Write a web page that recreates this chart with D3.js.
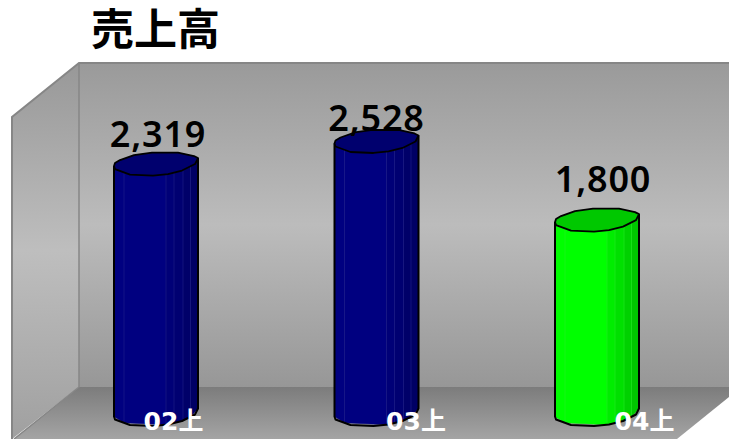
<!DOCTYPE html>
<html lang="ja"><head><meta charset="utf-8">
<script src="https://d3js.org/d3.v7.min.js"></script>
<style>html,body{margin:0;padding:0;background:#fff;overflow:hidden}svg{display:block}
text{font-family:"Noto Sans CJK JP","Noto Sans",sans-serif}
.val{font-family:"Noto Sans","Noto Sans CJK JP",sans-serif;letter-spacing:.8px}
.tick text{font-family:"DejaVu Sans","Noto Sans CJK JP",sans-serif}</style></head><body>
<svg id="c" width="729" height="439"></svg>
<script>
const categories = ["02上","03上","04上"];
const values = [2319,2528,1800];
const barColors = ["#000080","#000080","#00ff00"];
const topColors = ["#00006e","#00006e","#00c800"];
const title = "売上高";
const labelDx = [2,0,6];
const labelDy = [-17,-10,-28];
const tickDx = [17,39,47];

const svg = d3.select("#c");
const x = d3.scalePoint().domain(categories).range([156,597]);
const y = d3.scaleLinear().domain([0,3000]).range([414.5,90.5]);

const defs = svg.append("defs");
function grad(id,stops){
  const g = defs.append("linearGradient").attr("id",id).attr("x1",0).attr("y1",0).attr("x2",0).attr("y2",1);
  stops.forEach(s=>g.append("stop").attr("offset",s[0]).attr("stop-color",s[1]));
}
grad("back",[[0,"#9a9a9a"],[.5,"#bcbcbc"],[1,"#979797"]]);
grad("side",[[0,"#989898"],[.5,"#bebebe"],[1,"#a0a0a0"]]);
grad("floor",[[0,"#7c7c7c"],[1,"#a4a4a4"]]);

const line = d3.line();
svg.append("path").attr("d",line([[79,63],[729,63],[729,387],[79,387]])+"Z").attr("fill","url(#back)");
svg.append("path").attr("d",line([[12,117],[79,63],[79,387],[12,439]])+"Z").attr("fill","url(#side)");
svg.append("path").attr("d",line([[79,387],[729,387],[729,397],[677,439],[14,439]])+"Z").attr("fill","url(#floor)");
svg.append("path").attr("d",line([[729,63],[79,63],[12,117],[12,439]])).attr("fill","none").attr("stroke","#868686").attr("stroke-width",2);
svg.append("path").attr("d",line([[79,63],[79,387],[14,439]])).attr("fill","none").attr("stroke","#868686").attr("stroke-width",1.5);

// Cylinder outline (relative to bar centre / top plane)
const rimFront = [[-42,2],[-41,5],[-26,10.5],[-3,11.5],[12,10],[26,6.5],[39,0],[42,-6]];
const rimBack = [[42,-6],[38,-8],[22,-11.5],[-4,-11.5],[-22,-9],[-36,-4],[-41,-1]];
const facetEdges = [-42,-32,10,18,27,34.5,42];
const shades = [1.0,1.0,.93,.88,.82,.78];

function rimY(dx){
  for(let i=0;i<rimFront.length-1;i++){
    const a=rimFront[i],b=rimFront[i+1];
    if(dx>=a[0]&&dx<=b[0]) return a[1]+(b[1]-a[1])*(dx-a[0])/(b[0]-a[0]);
  }
  return 0;
}
const bars = svg.selectAll("g.bar").data(categories).join("g").attr("class","bar");
bars.each(function(c,i){
  const g = d3.select(this), cx=x(c), top=y(values[i]), bot=y(0);
  const base = d3.color(barColors[i]);
  facetEdges.slice(0,-1).forEach((e,k)=>{
    const f = facetEdges[k+1];
    const col = d3.rgb(base.r*shades[k],base.g*shades[k],base.b*shades[k]);
    const pts=[[cx+e,top+rimY(e)],[cx+f,top+rimY(f)],[cx+f,bot+rimY(f)],[cx+e,bot+rimY(e)]];
    g.append("path").attr("d",line(pts)+"Z").attr("fill",col.formatHex()).attr("stroke",col.formatHex()).attr("stroke-width",.5);
    if(k>0) g.append("line").attr("x1",cx+e).attr("x2",cx+e).attr("y1",top+rimY(e)).attr("y2",bot+rimY(e))
      .attr("stroke",i==2?"#22f022":"#20208c").attr("stroke-width",.6);
  });
  // outline
  const outline=[[cx-42,top+rimFront[0][1]],[cx-42,bot+rimFront[0][1]]]
    .concat(rimFront.slice(1).map(p=>[cx+p[0],bot+p[1]]))
    .concat([[cx+42,top-6]]);
  g.append("path").attr("d",line(outline)).attr("fill","none").attr("stroke","#000").attr("stroke-width",2).attr("stroke-linejoin","round");
  const cap=rimFront.concat(rimBack.slice(1)).map(p=>[cx+p[0],top+p[1]]);
  g.append("path").attr("d",line(cap)+"Z")
    .attr("fill",topColors[i]).attr("stroke","#000").attr("stroke-width",1.8).attr("stroke-linejoin","round");
});

svg.selectAll("text.val").data(values).join("text").attr("class","val")
  .attr("x",(d,i)=>x(categories[i])+labelDx[i])
  .attr("y",(d,i)=>y(d)+labelDy[i])
  .attr("text-anchor","middle").attr("font-size",36).attr("font-weight",600).attr("fill","#000")
  .text(d=>d3.format(",")(d));

const axis = d3.axisBottom(x).tickSize(0).tickPadding(0);
const ag = svg.append("g").attr("transform","translate(0,412)").call(axis);
ag.select(".domain").remove();
ag.selectAll("text").attr("fill","#fff").attr("font-size",25).attr("font-weight",700)
  .attr("dx",(d,i)=>tickDx[i]);

svg.append("text").attr("x",91).attr("y",45).attr("font-size",43).attr("font-weight",700).attr("fill","#000").text(title);
</script></body></html>
